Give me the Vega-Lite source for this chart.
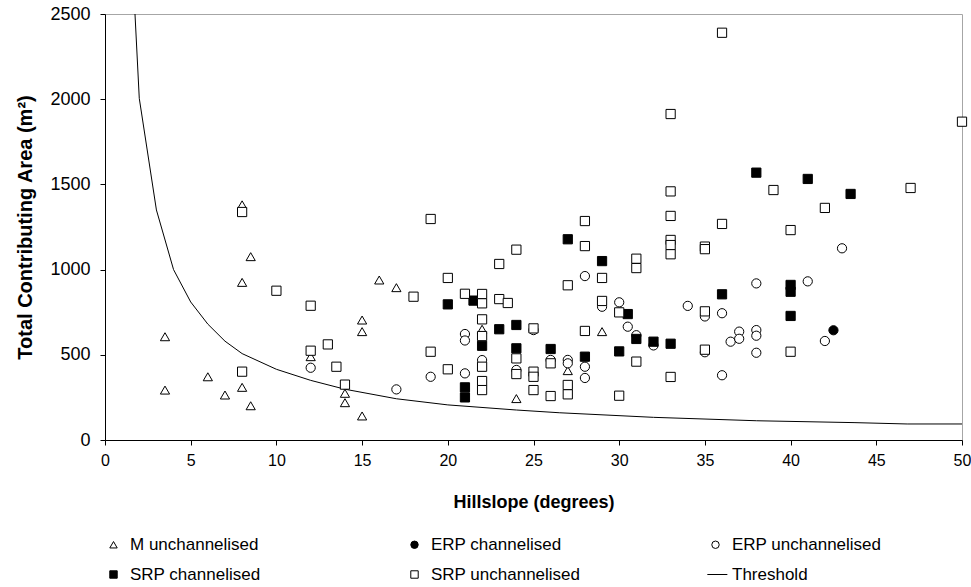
{
  "$schema": "https://vega.github.io/schema/vega-lite/v6.json",
  "width": 857,
  "height": 426,
  "autosize": {"type": "none"},
  "padding": {"left": 105, "top": 14, "right": 9, "bottom": 147},
  "background": "white",
  "config": {
    "font": "Liberation Sans",
    "view": {"stroke": "#a6a6a6", "strokeWidth": 1},
    "axis": {
      "grid": false,
      "domainColor": "black",
      "tickColor": "black",
      "tickSize": 5,
      "labelFont": "Liberation Sans",
      "labelColor": "black",
      "titleFont": "Liberation Sans",
      "titleFontWeight": "bold",
      "titleColor": "black"
    },
    "legend": {
      "labelFont": "Liberation Sans",
      "labelFontSize": 17,
      "labelColor": "black",
      "labelOffset": 8,
      "symbolSize": 55,
      "symbolStrokeWidth": 1
    }
  },
  "datasets": {
    "points": [
      {"slope": 3.5, "area": 606, "series": "M unchannelised"},
      {"slope": 3.5, "area": 293, "series": "M unchannelised"},
      {"slope": 6, "area": 371, "series": "M unchannelised"},
      {"slope": 7, "area": 264, "series": "M unchannelised"},
      {"slope": 8, "area": 309, "series": "M unchannelised"},
      {"slope": 8, "area": 925, "series": "M unchannelised"},
      {"slope": 8, "area": 1380, "series": "M unchannelised"},
      {"slope": 8.5, "area": 1076, "series": "M unchannelised"},
      {"slope": 8.5, "area": 201, "series": "M unchannelised"},
      {"slope": 12, "area": 489, "series": "M unchannelised"},
      {"slope": 14, "area": 274, "series": "M unchannelised"},
      {"slope": 14, "area": 219, "series": "M unchannelised"},
      {"slope": 15, "area": 704, "series": "M unchannelised"},
      {"slope": 15, "area": 636, "series": "M unchannelised"},
      {"slope": 15, "area": 141, "series": "M unchannelised"},
      {"slope": 16, "area": 939, "series": "M unchannelised"},
      {"slope": 17, "area": 894, "series": "M unchannelised"},
      {"slope": 22, "area": 650, "series": "M unchannelised"},
      {"slope": 24, "area": 243, "series": "M unchannelised"},
      {"slope": 27, "area": 407, "series": "M unchannelised"},
      {"slope": 29, "area": 636, "series": "M unchannelised"},
      {"slope": 42.5, "area": 644, "series": "ERP channelised"},
      {"slope": 12, "area": 424, "series": "ERP unchannelised"},
      {"slope": 17, "area": 297, "series": "ERP unchannelised"},
      {"slope": 19, "area": 371, "series": "ERP unchannelised"},
      {"slope": 21, "area": 622, "series": "ERP unchannelised"},
      {"slope": 21, "area": 584, "series": "ERP unchannelised"},
      {"slope": 21, "area": 391, "series": "ERP unchannelised"},
      {"slope": 22, "area": 469, "series": "ERP unchannelised"},
      {"slope": 24, "area": 411, "series": "ERP unchannelised"},
      {"slope": 25, "area": 645, "series": "ERP unchannelised"},
      {"slope": 26, "area": 470, "series": "ERP unchannelised"},
      {"slope": 27, "area": 470, "series": "ERP unchannelised"},
      {"slope": 27, "area": 450, "series": "ERP unchannelised"},
      {"slope": 28, "area": 962, "series": "ERP unchannelised"},
      {"slope": 28, "area": 430, "series": "ERP unchannelised"},
      {"slope": 28, "area": 364, "series": "ERP unchannelised"},
      {"slope": 29, "area": 782, "series": "ERP unchannelised"},
      {"slope": 30, "area": 808, "series": "ERP unchannelised"},
      {"slope": 30.5, "area": 665, "series": "ERP unchannelised"},
      {"slope": 31, "area": 615, "series": "ERP unchannelised"},
      {"slope": 32, "area": 555, "series": "ERP unchannelised"},
      {"slope": 34, "area": 787, "series": "ERP unchannelised"},
      {"slope": 35, "area": 515, "series": "ERP unchannelised"},
      {"slope": 35, "area": 725, "series": "ERP unchannelised"},
      {"slope": 36, "area": 744, "series": "ERP unchannelised"},
      {"slope": 36, "area": 380, "series": "ERP unchannelised"},
      {"slope": 36.5, "area": 577, "series": "ERP unchannelised"},
      {"slope": 37, "area": 636, "series": "ERP unchannelised"},
      {"slope": 37, "area": 594, "series": "ERP unchannelised"},
      {"slope": 38, "area": 645, "series": "ERP unchannelised"},
      {"slope": 38, "area": 612, "series": "ERP unchannelised"},
      {"slope": 38, "area": 512, "series": "ERP unchannelised"},
      {"slope": 38, "area": 919, "series": "ERP unchannelised"},
      {"slope": 41, "area": 931, "series": "ERP unchannelised"},
      {"slope": 42, "area": 581, "series": "ERP unchannelised"},
      {"slope": 43, "area": 1125, "series": "ERP unchannelised"},
      {"slope": 20, "area": 796, "series": "SRP channelised"},
      {"slope": 21.5, "area": 818, "series": "SRP channelised"},
      {"slope": 21, "area": 309, "series": "SRP channelised"},
      {"slope": 21, "area": 250, "series": "SRP channelised"},
      {"slope": 22, "area": 553, "series": "SRP channelised"},
      {"slope": 23, "area": 650, "series": "SRP channelised"},
      {"slope": 24, "area": 675, "series": "SRP channelised"},
      {"slope": 24, "area": 538, "series": "SRP channelised"},
      {"slope": 26, "area": 534, "series": "SRP channelised"},
      {"slope": 27, "area": 1178, "series": "SRP channelised"},
      {"slope": 28, "area": 489, "series": "SRP channelised"},
      {"slope": 29, "area": 1050, "series": "SRP channelised"},
      {"slope": 30, "area": 520, "series": "SRP channelised"},
      {"slope": 30.5, "area": 739, "series": "SRP channelised"},
      {"slope": 31, "area": 593, "series": "SRP channelised"},
      {"slope": 32, "area": 577, "series": "SRP channelised"},
      {"slope": 33, "area": 565, "series": "SRP channelised"},
      {"slope": 36, "area": 855, "series": "SRP channelised"},
      {"slope": 38, "area": 1569, "series": "SRP channelised"},
      {"slope": 40, "area": 910, "series": "SRP channelised"},
      {"slope": 40, "area": 870, "series": "SRP channelised"},
      {"slope": 40, "area": 728, "series": "SRP channelised"},
      {"slope": 41, "area": 1532, "series": "SRP channelised"},
      {"slope": 43.5, "area": 1444, "series": "SRP channelised"},
      {"slope": 8, "area": 1338, "series": "SRP unchannelised"},
      {"slope": 8, "area": 401, "series": "SRP unchannelised"},
      {"slope": 10, "area": 876, "series": "SRP unchannelised"},
      {"slope": 12, "area": 788, "series": "SRP unchannelised"},
      {"slope": 12, "area": 524, "series": "SRP unchannelised"},
      {"slope": 13, "area": 561, "series": "SRP unchannelised"},
      {"slope": 13.5, "area": 430, "series": "SRP unchannelised"},
      {"slope": 14, "area": 325, "series": "SRP unchannelised"},
      {"slope": 18, "area": 841, "series": "SRP unchannelised"},
      {"slope": 19, "area": 1297, "series": "SRP unchannelised"},
      {"slope": 19, "area": 518, "series": "SRP unchannelised"},
      {"slope": 20, "area": 951, "series": "SRP unchannelised"},
      {"slope": 20, "area": 415, "series": "SRP unchannelised"},
      {"slope": 21, "area": 858, "series": "SRP unchannelised"},
      {"slope": 22, "area": 857, "series": "SRP unchannelised"},
      {"slope": 22, "area": 802, "series": "SRP unchannelised"},
      {"slope": 22, "area": 708, "series": "SRP unchannelised"},
      {"slope": 22, "area": 610, "series": "SRP unchannelised"},
      {"slope": 22, "area": 430, "series": "SRP unchannelised"},
      {"slope": 22, "area": 346, "series": "SRP unchannelised"},
      {"slope": 22, "area": 293, "series": "SRP unchannelised"},
      {"slope": 23, "area": 1033, "series": "SRP unchannelised"},
      {"slope": 23, "area": 827, "series": "SRP unchannelised"},
      {"slope": 23.5, "area": 804, "series": "SRP unchannelised"},
      {"slope": 24, "area": 1117, "series": "SRP unchannelised"},
      {"slope": 24, "area": 479, "series": "SRP unchannelised"},
      {"slope": 24, "area": 387, "series": "SRP unchannelised"},
      {"slope": 25, "area": 655, "series": "SRP unchannelised"},
      {"slope": 25, "area": 401, "series": "SRP unchannelised"},
      {"slope": 25, "area": 371, "series": "SRP unchannelised"},
      {"slope": 25, "area": 293, "series": "SRP unchannelised"},
      {"slope": 26, "area": 450, "series": "SRP unchannelised"},
      {"slope": 26, "area": 258, "series": "SRP unchannelised"},
      {"slope": 27, "area": 908, "series": "SRP unchannelised"},
      {"slope": 27, "area": 323, "series": "SRP unchannelised"},
      {"slope": 27, "area": 268, "series": "SRP unchannelised"},
      {"slope": 28, "area": 1285, "series": "SRP unchannelised"},
      {"slope": 28, "area": 1138, "series": "SRP unchannelised"},
      {"slope": 28, "area": 640, "series": "SRP unchannelised"},
      {"slope": 29, "area": 951, "series": "SRP unchannelised"},
      {"slope": 29, "area": 816, "series": "SRP unchannelised"},
      {"slope": 30, "area": 749, "series": "SRP unchannelised"},
      {"slope": 30, "area": 260, "series": "SRP unchannelised"},
      {"slope": 31, "area": 1064, "series": "SRP unchannelised"},
      {"slope": 31, "area": 1009, "series": "SRP unchannelised"},
      {"slope": 31, "area": 460, "series": "SRP unchannelised"},
      {"slope": 33, "area": 1913, "series": "SRP unchannelised"},
      {"slope": 33, "area": 1459, "series": "SRP unchannelised"},
      {"slope": 33, "area": 1315, "series": "SRP unchannelised"},
      {"slope": 33, "area": 1174, "series": "SRP unchannelised"},
      {"slope": 33, "area": 1144, "series": "SRP unchannelised"},
      {"slope": 33, "area": 1090, "series": "SRP unchannelised"},
      {"slope": 33, "area": 370, "series": "SRP unchannelised"},
      {"slope": 35, "area": 1135, "series": "SRP unchannelised"},
      {"slope": 35, "area": 1120, "series": "SRP unchannelised"},
      {"slope": 35, "area": 755, "series": "SRP unchannelised"},
      {"slope": 35, "area": 530, "series": "SRP unchannelised"},
      {"slope": 36, "area": 2390, "series": "SRP unchannelised"},
      {"slope": 36, "area": 1268, "series": "SRP unchannelised"},
      {"slope": 39, "area": 1467, "series": "SRP unchannelised"},
      {"slope": 40, "area": 1232, "series": "SRP unchannelised"},
      {"slope": 40, "area": 518, "series": "SRP unchannelised"},
      {"slope": 42, "area": 1362, "series": "SRP unchannelised"},
      {"slope": 47, "area": 1479, "series": "SRP unchannelised"},
      {"slope": 50, "area": 1868, "series": "SRP unchannelised"}
    ],
    "threshold": [
      {"slope": 1.75, "area": 2500},
      {"slope": 2, "area": 2005},
      {"slope": 3, "area": 1350},
      {"slope": 4, "area": 1000},
      {"slope": 5, "area": 810},
      {"slope": 6, "area": 680},
      {"slope": 7, "area": 580},
      {"slope": 8, "area": 507},
      {"slope": 10, "area": 415},
      {"slope": 12, "area": 350},
      {"slope": 14, "area": 298},
      {"slope": 17, "area": 242},
      {"slope": 20, "area": 206},
      {"slope": 24, "area": 176},
      {"slope": 26.5, "area": 160},
      {"slope": 32, "area": 133},
      {"slope": 38, "area": 113},
      {"slope": 43.7, "area": 102},
      {"slope": 46.8, "area": 94},
      {"slope": 50, "area": 94}
    ]
  },
  "layer": [
    {
      "data": {"name": "threshold"},
      "mark": {"type": "line", "color": "black", "strokeWidth": 1, "clip": true},
      "encoding": {
        "x": {"field": "slope", "type": "quantitative"},
        "y": {"field": "area", "type": "quantitative"}
      }
    },
    {
      "data": {"name": "points"},
      "mark": {"type": "point", "strokeWidth": 1, "size": 85, "opacity": 1, "fillOpacity": 1},
      "encoding": {
        "x": {
          "field": "slope", "type": "quantitative",
          "scale": {"domain": [0, 50], "nice": false, "zero": false},
          "axis": {"title": "Hillslope (degrees)", "titleFontSize": 18, "labelFontSize": 16, "values": [0, 5, 10, 15, 20, 25, 30, 35, 40, 45, 50], "labelPadding": 7, "titlePadding": 25, "labelFlush": false}
        },
        "y": {
          "field": "area", "type": "quantitative",
          "scale": {"domain": [0, 2500], "nice": false},
          "axis": {"title": "Total Contributing Area (m²)", "titleFontSize": 20, "labelFontSize": 18, "format": "d", "values": [0, 500, 1000, 1500, 2000, 2500], "labelPadding": 10, "titlePadding": 14, "labelFlush": false}
        },
        "shape": {
          "field": "series", "type": "nominal",
          "scale": {
            "domain": ["M unchannelised", "SRP channelised", "ERP channelised", "SRP unchannelised", "ERP unchannelised", "Threshold"],
            "range": ["triangle-up", "square", "circle", "square", "circle", "M-2.2,0H3.2"]
          },
          "legend": {
            "title": null,
            "orient": "none",
            "legendX": 0,
            "legendY": 522,
            "columns": 3,
            "gridAlign": "all",
            "columnPadding": 124,
            "rowPadding": 12
          }
        },
        "fill": {
          "field": "series", "type": "nominal",
          "scale": {
            "domain": ["M unchannelised", "SRP channelised", "ERP channelised", "SRP unchannelised", "ERP unchannelised", "Threshold"],
            "range": ["white", "black", "black", "white", "white", "transparent"]
          },
          "legend": {
            "title": null,
            "orient": "none",
            "legendX": 0,
            "legendY": 522,
            "columns": 3,
            "gridAlign": "all",
            "columnPadding": 124,
            "rowPadding": 12
          }
        },
        "stroke": {
          "field": "series", "type": "nominal",
          "scale": {
            "domain": ["M unchannelised", "SRP channelised", "ERP channelised", "SRP unchannelised", "ERP unchannelised", "Threshold"],
            "range": ["black", "black", "black", "black", "black", "black"]
          },
          "legend": {
            "title": null,
            "orient": "none",
            "legendX": 0,
            "legendY": 522,
            "columns": 3,
            "gridAlign": "all",
            "columnPadding": 124,
            "rowPadding": 12
          }
        }
      }
    }
  ]
}
